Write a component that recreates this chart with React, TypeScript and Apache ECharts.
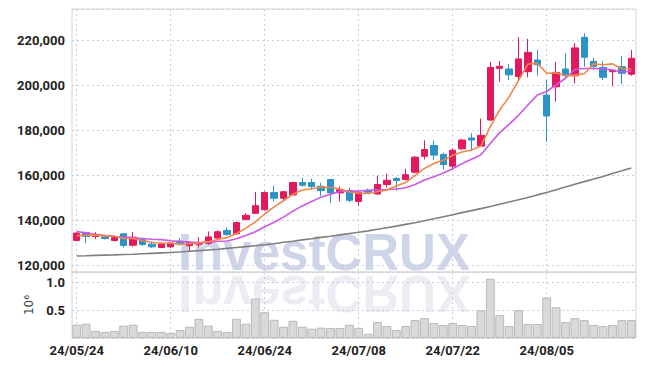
import React, { useEffect, useRef } from "react";
import * as echarts from "echarts";

const dates = [
  "24/05/24", "24/05/27", "24/05/28", "24/05/29", "24/05/30", "24/05/31", "24/06/03", "24/06/04", "24/06/05", "24/06/07",
  "24/06/10", "24/06/11", "24/06/12", "24/06/13", "24/06/14", "24/06/17", "24/06/18", "24/06/19", "24/06/20", "24/06/21",
  "24/06/24", "24/06/25", "24/06/26", "24/06/27", "24/06/28", "24/07/01", "24/07/02", "24/07/03", "24/07/04", "24/07/05",
  "24/07/08", "24/07/09", "24/07/10", "24/07/11", "24/07/12", "24/07/15", "24/07/16", "24/07/17", "24/07/18", "24/07/19",
  "24/07/22", "24/07/23", "24/07/24", "24/07/25", "24/07/26", "24/07/29", "24/07/30", "24/07/31", "24/08/01", "24/08/02",
  "24/08/05", "24/08/06", "24/08/07", "24/08/08", "24/08/09", "24/08/12", "24/08/13", "24/08/14", "24/08/16", "24/08/19",
];

const opens = [
  131100, 134700, 132900, 132700, 131100, 134100, 129000, 131500, 129500, 128000,
  128300, 130800, 128800, 129500, 129800, 132200, 135600, 134100, 140500, 143200,
  144800, 152500, 149900, 151400, 156900, 156900, 155200, 158200, 152300, 153400,
  148500, 153400, 151800, 156000, 158700, 158200, 161500, 168600, 173400, 169400,
  164200, 171900, 176700, 173100, 184700, 207700, 207400, 204100, 206200, 211400,
  195800, 199500, 207400, 204400, 221500, 210800, 208100, 206200, 208400, 205100,
];
const closes = [
  134400, 132900, 133900, 132000, 132400, 128900, 132600, 129300, 128300, 129900,
  130000, 129800, 130300, 130200, 132700, 135000, 133800, 139100, 142300, 146600,
  152500, 149900, 152800, 156900, 155700, 155100, 153300, 152300, 153700, 149000,
  152500, 152600, 156000, 157900, 157800, 160400, 168200, 171600, 169100, 164900,
  171300, 175800, 175800, 177900, 208100, 208600, 204800, 211900, 214800, 209300,
  186500, 205900, 204800, 216800, 212600, 208600, 203700, 206900, 205500, 212200,
];
const lows = [
  130800, 129900, 131700, 131600, 130700, 128000, 128400, 128800, 127800, 127700,
  127800, 128900, 126100, 128100, 129200, 131700, 133200, 133900, 140100, 142900,
  144400, 148500, 148900, 151100, 155000, 153700, 150800, 147800, 148500, 148200,
  146500, 151900, 151500, 154700, 153400, 157900, 161100, 167200, 167100, 162700,
  162700, 171400, 170900, 172800, 184300, 201700, 202500, 202200, 203700, 204400,
  175000, 193000, 202900, 201000, 208400, 207000, 202500, 199700, 200700, 204400,
];
const highs = [
  134800, 134900, 134800, 133100, 133000, 134200, 134800, 132000, 130200, 130200,
  130200, 132200, 130600, 132600, 135100, 135600, 136900, 139600, 143300, 152700,
  153000, 155500, 153200, 157200, 159000, 158600, 156700, 158500, 155200, 154500,
  153000, 154200, 160000, 160900, 159400, 163000, 168600, 175700, 175600, 170200,
  172000, 176400, 178800, 185400, 210600, 211000, 209600, 221600, 220800, 215900,
  202500, 210600, 214400, 218900, 223300, 212400, 210800, 207000, 213300, 215900,
];
const volumes = [
  238000, 255000, 127000, 109000, 127000, 220000, 238000, 109000, 109000, 109000,
  91000, 144000, 202000, 343000, 220000, 127000, 109000, 343000, 255000, 707000,
  461000, 326000, 202000, 308000, 202000, 167000, 185000, 180000, 180000, 238000,
  180000, 74000, 285000, 215000, 144000, 215000, 320000, 355000, 267000, 232000,
  267000, 232000, 215000, 496000, 1060000, 408000, 215000, 496000, 250000, 250000,
  725000, 549000, 285000, 355000, 320000, 232000, 215000, 232000, 320000, 320000,
];
const ma5 = [
  133300, 133400, 133500, 133300, 133100, 132000, 132000, 131000, 130300, 129800,
  130000, 129500, 129700, 130000, 130600, 131600, 132400, 134200, 136600, 139400,
  142900, 146100, 148800, 151700, 153600, 154100, 154800, 154700, 154000, 152700,
  152200, 152000, 152800, 153600, 155400, 156900, 160100, 163200, 165400, 166800,
  169000, 170500, 171400, 173100, 181800, 189200, 195000, 202300, 209600, 209900,
  205500, 205700, 204300, 204700, 205300, 209700, 209300, 209700, 207500, 207400,
];
const ma10 = [
  135100, 134500, 133800, 133300, 132900, 132600, 132300, 132000, 131700, 131500,
  131000, 130700, 130400, 130200, 130200, 130800, 130900, 131900, 133300, 135000,
  137200, 139200, 141500, 144200, 146500, 148500, 150400, 151700, 152900, 153100,
  153100, 153400, 153700, 153800, 154000, 154600, 156000, 158000, 159500, 161100,
  163000, 165300, 167300, 169300, 174300, 179100, 182800, 186800, 191400, 195800,
  197400, 200400, 203300, 207200, 207600, 207600, 207500, 207000, 206100, 206400,
];
const ma60 = [
  124200, 124300, 124500, 124600, 124700, 124900, 125000, 125200, 125400, 125600,
  125800, 126000, 126300, 126600, 126900, 127200, 127600, 128000, 128400, 128800,
  129200, 129700, 130300, 130800, 131400, 131900, 132500, 133000, 133600, 134200,
  134800, 135400, 136100, 136800, 137500, 138300, 139000, 139900, 140800, 141700,
  142600, 143500, 144400, 145300, 146200, 147200, 148200, 149200, 150200, 151400,
  152500, 153700, 154900, 156100, 157300, 158500, 159600, 160900, 162100, 163400,
];

const priceMin = 117100;
const priceMax = 234100;
const volMax = 1180000;

export default function App() {
  const ref = useRef<HTMLDivElement>(null);
  useEffect(() => {
    const chart = echarts.init(ref.current!, null, { renderer: "svg" });
    const candle = dates.map((_, i) => [opens[i], closes[i], lows[i], highs[i]]);
    const gridLine = { show: true, lineStyle: { color: "#c9cde0", type: [2, 3] as any, width: 1 } };
    const labelFont = { fontFamily: "Roboto", fontWeight: "bold" as any, fontSize: 13, color: "#222" };
    chart.setOption({
      animation: false,
      backgroundColor: "#fff",
      graphic: [
        {
          type: "text",
          x: 178,
          y: 252,
          z: -10,
          silent: true,
          style: {
            text: "InvestCRUX",
            fontFamily: "Liberation Sans",
            fontWeight: "bold",
            fontSize: 51,
            fill: "rgba(160,172,212,0.5)",
            verticalAlign: "middle",
            align: "left",
          },
        },
        {
          type: "text",
          x: 178,
          y: 293,
          scaleY: -1,
          z: -10,
          silent: true,
          style: {
            text: "InvestCRUX",
            fontFamily: "Liberation Sans",
            fontWeight: "bold",
            fontSize: 51,
            fill: "rgba(185,192,215,0.3)",
            verticalAlign: "middle",
            align: "left",
          },
        },
      ],
      grid: [
        { left: 72, right: 9, top: 9, height: 263, show: true, borderColor: "#d4d4d4", borderWidth: 1, backgroundColor: "transparent" },
        { left: 72, right: 9, top: 272, height: 66, show: true, borderColor: "#d4d4d4", borderWidth: 1, backgroundColor: "transparent" },
      ],
      xAxis: [
        {
          type: "category",
          gridIndex: 0,
          data: dates,
          boundaryGap: true,
          axisLine: { show: false },
          axisTick: { show: false, alignWithLabel: true, interval: 9 },
          axisLabel: { show: false, interval: 9 },
          splitLine: { ...gridLine, interval: 9, alignWithLabel: true },
        },
        {
          type: "category",
          gridIndex: 1,
          data: dates,
          boundaryGap: true,
          axisLine: { show: false },
          axisTick: { show: false, alignWithLabel: true, interval: 9 },
          axisLabel: { ...labelFont, interval: 9, margin: 6 },
          splitLine: { ...gridLine, interval: 9, alignWithLabel: true },
        },
      ],
      yAxis: [
        {
          type: "value",
          gridIndex: 0,
          min: priceMin,
          max: priceMax,
          splitNumber: 5,
          axisLine: { show: false },
          axisTick: { show: false },
          axisLabel: {
            ...labelFont,
            margin: 7,
            showMinLabel: false,
            showMaxLabel: false,
            formatter: (v: number) => v.toLocaleString("en-US"),
          },
          splitLine: gridLine,
        },
        {
          type: "value",
          gridIndex: 1,
          min: 0,
          max: volMax,
          interval: 500000,
          name: "10⁶",
          nameLocation: "middle",
          nameRotate: 90,
          nameGap: 36,
          nameTextStyle: { fontFamily: "DejaVu Sans", fontSize: 12, color: "#444" },
          axisLine: { show: false },
          axisTick: { show: false },
          axisLabel: {
            ...labelFont,
            margin: 7,
            showMinLabel: false,
            showMaxLabel: false,
            formatter: (v: number) => (v / 1e6).toFixed(1),
          },
          splitLine: gridLine,
        },
      ],
      series: [
        {
          type: "candlestick",
          xAxisIndex: 0,
          yAxisIndex: 0,
          data: candle,
          barWidth: "72%",
          itemStyle: {
            color: "#e2195f",
            color0: "#2b93c6",
            borderColor: "#e2195f",
            borderColor0: "#2b93c6",
            borderWidth: 1,
          },
        },
        {
          type: "line",
          xAxisIndex: 0,
          yAxisIndex: 0,
          data: ma60,
          showSymbol: false,
          lineStyle: { color: "#808080", width: 1.6 },
        },
        {
          type: "line",
          xAxisIndex: 0,
          yAxisIndex: 0,
          data: ma10,
          showSymbol: false,
          lineStyle: { color: "#cc58e8", width: 1.6 },
        },
        {
          type: "line",
          xAxisIndex: 0,
          yAxisIndex: 0,
          data: ma5,
          showSymbol: false,
          lineStyle: { color: "#ef874d", width: 1.6 },
        },
        {
          type: "bar",
          xAxisIndex: 1,
          yAxisIndex: 1,
          data: volumes,
          barCategoryGap: "6%",
          itemStyle: { color: "#d9d9d9", borderColor: "#b9b9b9", borderWidth: 1 },
        },
      ],
    });
    return () => chart.dispose();
  }, []);
  return <div ref={ref} style={{ position: "fixed", left: 0, top: 0, width: 645, height: 366 }} />;
}
